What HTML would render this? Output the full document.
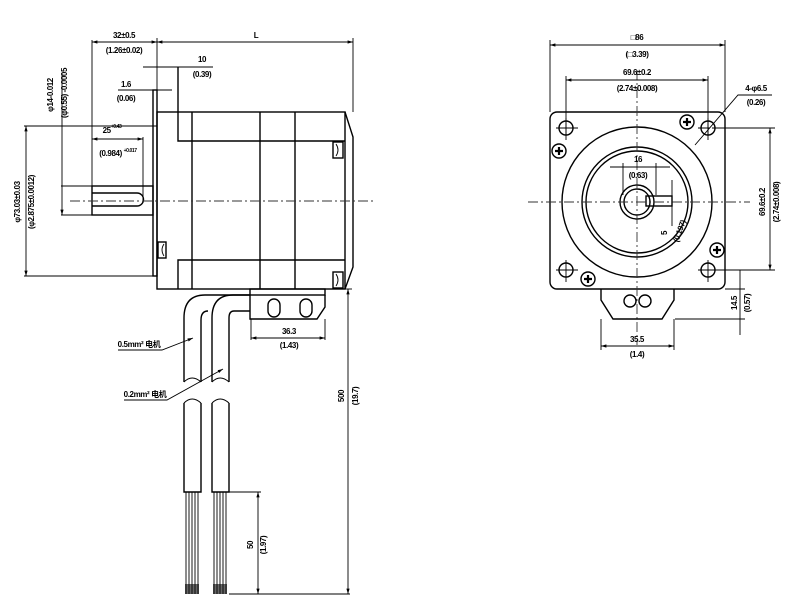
<!DOCTYPE html>
<html><head><meta charset="utf-8"><style>
html,body{margin:0;padding:0;background:#fff;}
svg{display:block;}
text{font-family:"Liberation Sans","Noto Sans CJK SC",sans-serif;font-size:8px;font-weight:bold;letter-spacing:-0.4px;fill:#000;text-anchor:middle;}
.s{stroke:#000;fill:none;stroke-width:1.4;}
.t{stroke:#000;fill:none;stroke-width:0.9;}
.c{stroke:#333;fill:none;stroke-width:0.9;stroke-dasharray:10,3,2,3;}
</style></head><body>
<svg width="805" height="613" viewBox="0 0 805 613" xmlns="http://www.w3.org/2000/svg">
<defs>
<marker id="a" viewBox="0 0 10 10" refX="10" refY="5" markerWidth="6" markerHeight="6" orient="auto-start-reverse"><path d="M0,2 L10,5 L0,8z" fill="#000"/></marker>
</defs>
<!-- SIDE VIEW -->
<rect class="s" x="153" y="90" width="4" height="186"/>
<rect class="s" x="157" y="112" width="188" height="177"/>
<line class="s" x1="192" y1="112" x2="192" y2="289"/>
<line class="s" x1="260" y1="112" x2="260" y2="289"/>
<line class="s" x1="295" y1="112" x2="295" y2="289"/>
<polyline class="s" points="178,67 178,141 345,141"/>
<polyline class="s" points="178,289 178,260 345,260"/>
<polyline class="s" points="345,112 353,137 353,267 345,289"/>
<rect class="s" x="333" y="142" width="10" height="16"/><path class="t" d="M336,144 q4,6 0,12"/>
<rect class="s" x="333" y="272" width="10" height="16"/><path class="t" d="M336,274 q4,6 0,12"/>
<rect class="s" x="158" y="242" width="8" height="16"/><path class="t" d="M164,244 q-4,6 0,12"/>
<rect class="s" x="92" y="186" width="61" height="29"/>
<path class="s" d="M92,193 H137 a6.5,6.5 0 0 1 0,13 H92"/>
<line class="c" x1="70" y1="201" x2="375" y2="201"/>
<!-- dims side -->
<line class="t" x1="92" y1="40" x2="92" y2="186"/>
<line class="t" x1="157" y1="38" x2="157" y2="112"/>
<line class="t" x1="353" y1="38" x2="353" y2="112"/>
<line class="t" x1="92" y1="42" x2="157" y2="42" marker-start="url(#a)" marker-end="url(#a)"/>
<line class="t" x1="157" y1="42" x2="353" y2="42" marker-start="url(#a)" marker-end="url(#a)"/>
<text x="124" y="38">32±0.5</text><text x="124" y="53">(1.26±0.02)</text>
<text x="256" y="38">L</text>
<line class="t" x1="143" y1="67" x2="213" y2="67"/>
<text x="202" y="62">10</text><text x="202" y="77">(0.39)</text>
<line class="t" x1="118" y1="90" x2="172" y2="90"/>
<text x="126" y="87">1.6</text><text x="126" y="101">(0.06)</text>
<line class="t" x1="24" y1="126" x2="157" y2="126"/>
<text x="112" y="133">25<tspan font-size="5" dy="-5">+0.43</tspan></text>
<line class="t" x1="143" y1="137" x2="143" y2="200"/>
<line class="t" x1="92" y1="139" x2="143" y2="139" marker-start="url(#a)" marker-end="url(#a)"/>
<text x="118" y="156">(0.984) <tspan font-size="5" dy="-4">+0.017</tspan></text>
<line class="t" x1="24" y1="276" x2="153" y2="276"/>
<line class="t" x1="26" y1="126" x2="26" y2="276" marker-start="url(#a)" marker-end="url(#a)"/>
<text transform="translate(20,202) rotate(-90)">φ73.03±0.03</text>
<text transform="translate(34,202) rotate(-90)">(φ2.875±0.0012)</text>
<line class="t" x1="62" y1="73" x2="62" y2="215" marker-end="url(#a)"/>
<line class="t" x1="61" y1="186" x2="92" y2="186"/>
<line class="t" x1="61" y1="215" x2="92" y2="215"/>
<text transform="translate(53,95) rotate(-90)">φ14-0.012</text>
<text transform="translate(67,93) rotate(-90)">(φ0.55) -0.0005</text>
<!-- connector -->
<rect class="s" x="250" y="289" width="75" height="6"/>
<polyline class="s" points="250,295 250,319 317,319 325,307 325,295"/>
<rect class="s" x="268" y="299" width="12" height="18" rx="6"/>
<rect class="s" x="300" y="299" width="12" height="18" rx="6"/>
<!-- cables -->
<path class="s" d="M250,295 H205 Q184,295 184,318 V382"/>
<path class="s" d="M250,295 H233 Q212,295 212,318 V382"/>
<path class="s" d="M201,382 V320 Q201,311 208,311"/>
<path class="s" d="M250,311 H234 Q229,311 229,318 V382"/>
<path class="t" d="M184,382 q8,-8 17,0 M212,382 q8,-8 17,0 M184,403 q8,-8 17,0 M212,403 q8,-8 17,0" />
<path class="s" d="M184,403 V492 H201 V403 M212,403 V492 H229 V403"/>
<g class="t"><path d="M186,492V594 M189,492V594 M192,492V594 M195,492V594 M198,492V594 M214,492V594 M217,492V594 M220,492V594 M223,492V594 M226,492V594"/></g>
<rect x="185" y="584" width="14" height="10" fill="#000" opacity="0.6"/>
<rect x="213" y="584" width="14" height="10" fill="#000" opacity="0.6"/>
<line class="t" x1="251" y1="338" x2="325" y2="338" marker-start="url(#a)" marker-end="url(#a)"/>
<line class="t" x1="325" y1="319" x2="325" y2="340"/><line class="t" x1="251" y1="319" x2="251" y2="340"/>
<text x="289" y="334">36.3</text><text x="289" y="348">(1.43)</text>
<line class="t" x1="345" y1="289" x2="352" y2="289"/>
<line class="t" x1="348" y1="289" x2="348" y2="594" marker-start="url(#a)" marker-end="url(#a)"/>
<text transform="translate(344,396) rotate(-90)">500</text>
<text transform="translate(358,396) rotate(-90)">(19.7)</text>
<line class="t" x1="229" y1="492" x2="261" y2="492"/>
<line class="t" x1="229" y1="594" x2="350" y2="594"/>
<line class="t" x1="258" y1="492" x2="258" y2="594" marker-start="url(#a)" marker-end="url(#a)"/>
<text transform="translate(253,545) rotate(-90)">50</text>
<text transform="translate(266,545) rotate(-90)">(1.97)</text>
<polyline class="t" points="118,350 162,350 193,338" marker-end="url(#a)"/>
<text x="139" y="347" font-size="7">0.5mm² 电机</text>
<polyline class="t" points="124,400 167,400 223,369" marker-end="url(#a)"/>
<text x="145" y="397" font-size="7">0.2mm² 电机</text>
<!-- FRONT VIEW -->
<rect class="s" x="550" y="112" width="175" height="177" rx="7"/>
<circle class="s" cx="637" cy="202" r="75"/>
<circle class="s" cx="637" cy="202" r="55"/>
<circle class="s" cx="637" cy="202" r="51"/>
<circle class="s" cx="637" cy="202" r="17"/>
<circle class="s" cx="637" cy="202" r="13"/>
<rect class="s" x="646" y="196" width="26" height="10" fill="#fff"/>
<line class="c" x1="528" y1="202" x2="750" y2="202"/>
<line class="c" x1="637" y1="70" x2="637" y2="345"/>
<g class="s">
<circle cx="566" cy="128" r="7"/><circle cx="708" cy="128" r="7"/><circle cx="566" cy="270" r="7"/><circle cx="708" cy="270" r="7"/>
</g>
<g class="t">
<path d="M556,128h22M566,118v22M698,128h12M708,118v22M556,270h22M566,260v22M698,270h22M708,260v22"/>
</g>
<g class="s">
<circle cx="559" cy="151" r="7"/><circle cx="687" cy="122" r="7"/><circle cx="717" cy="250" r="7"/><circle cx="588" cy="279" r="7"/>
</g>
<g stroke="#000" stroke-width="2.2"><path d="M555,151h8M559,147v8M683,122h8M687,118v8M713,250h8M717,246v8M584,279h8M588,275v8"/></g>
<polyline class="s" points="601,289 601,300 613,319 662,319 674,300 674,289"/>
<circle class="s" cx="630" cy="301" r="6"/><circle class="s" cx="645" cy="301" r="6"/>
<line class="t" x1="550" y1="40" x2="550" y2="112"/><line class="t" x1="725" y1="40" x2="725" y2="112"/>
<line class="t" x1="550" y1="45" x2="725" y2="45" marker-start="url(#a)" marker-end="url(#a)"/>
<text x="637" y="40">□86</text><text x="637" y="57">(□3.39)</text>
<line class="t" x1="566" y1="76" x2="566" y2="135"/><line class="t" x1="708" y1="76" x2="708" y2="135"/>
<line class="t" x1="566" y1="80" x2="708" y2="80" marker-start="url(#a)" marker-end="url(#a)"/>
<text x="637" y="75">69.6±0.2</text><text x="637" y="91">(2.74±0.008)</text>
<polyline class="t" points="772,95 738,95 695,145"/>
<text x="756" y="91">4-φ6.5</text><text x="756" y="105">(0.26)</text>
<line class="t" x1="712" y1="128" x2="775" y2="128"/><line class="t" x1="712" y1="270" x2="775" y2="270"/>
<line class="t" x1="770" y1="128" x2="770" y2="270" marker-start="url(#a)" marker-end="url(#a)"/>
<text transform="translate(765,202) rotate(-90)">69.6±0.2</text>
<text transform="translate(779,202) rotate(-90)">(2.74±0.008)</text>
<line class="t" x1="725" y1="289" x2="745" y2="289"/><line class="t" x1="675" y1="319" x2="745" y2="319"/>
<line class="t" x1="740" y1="270" x2="740" y2="335"/>
<text transform="translate(737,303) rotate(-90)">14.5</text>
<text transform="translate(750,303) rotate(-90)">(0.57)</text>
<line class="t" x1="601" y1="319" x2="601" y2="350"/><line class="t" x1="674" y1="319" x2="674" y2="350"/>
<line class="t" x1="601" y1="346" x2="674" y2="346" marker-start="url(#a)" marker-end="url(#a)"/>
<text x="637" y="342">35.5</text><text x="637" y="357">(1.4)</text>
<line class="t" x1="623" y1="163" x2="623" y2="195"/><line class="t" x1="656" y1="163" x2="656" y2="195"/>
<line class="t" x1="610" y1="167" x2="670" y2="167"/>
<text x="638" y="162">16</text><text x="638" y="178">(0.63)</text>
<line class="t" x1="672" y1="180" x2="672" y2="226"/>
<text transform="translate(667,233) rotate(-90)">5</text>
<text transform="translate(682,232) rotate(-70)">(0.197)</text>
</svg>
</body></html>
